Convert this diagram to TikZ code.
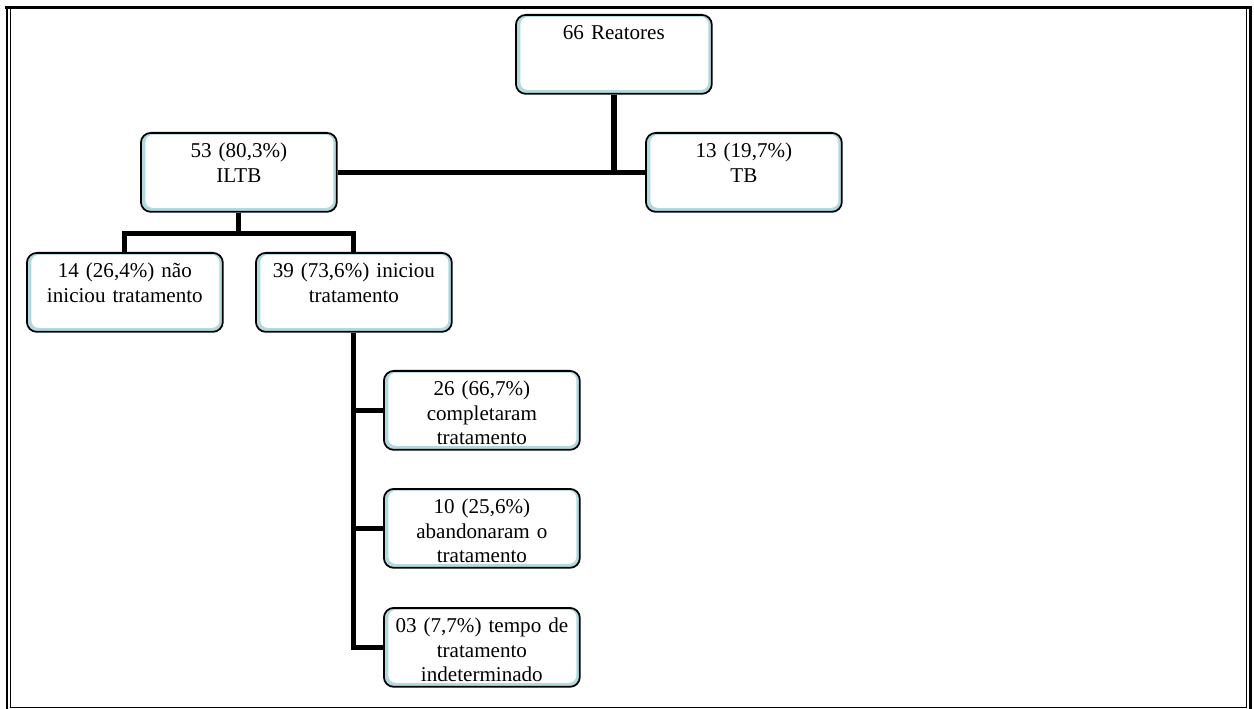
\documentclass[tikz,border=0pt]{standalone}
\usepackage{fontspec}
\setmainfont{Liberation Serif}
\definecolor{rim}{RGB}{178,217,223}

\begin{document}
\begin{tikzpicture}[x=0.02cm, y=-0.02cm,
        box/.style={draw, line width=1pt, rounded corners=0.2cm, fill=rim,
            anchor=north west, align=center, text width=3.7cm,
            inner xsep=0.11cm, inner ysep=0.1cm, text height=0.4cm, text depth=0.98cm,
            font=\fontsize{12}{13.8}\selectfont,
            path picture={\fill[white, rounded corners=0.15cm]
                ([xshift=0.09cm, yshift=-0.04cm]path picture bounding box.north west) rectangle
                ([xshift=-0.07cm, yshift=0.08cm]path picture bounding box.south east);}},
        link/.style={line width=3pt}]

        % (x, y) in pixels of the page: x to the right, y downwards
        \useasboundingbox (0, 0) rectangle (1254, 709);

        % frame
        \draw[line width=1.8pt] (5, 7.5) -- (1252, 7.5);
        \draw[line width=1.4pt] (7, 6) -- (7, 709);
        \draw[line width=0.6pt] (10.5, 9) -- (10.5, 707.5);
        \draw[line width=1.4pt] (1250.5, 6) -- (1250.5, 709);
        \draw[line width=0.6pt] (1246.5, 9) -- (1246.5, 707.5);
        \draw[line width=0.7pt] (10.5, 707.5) -- (1246.5, 707.5);

        % boxes
        \node[box] (reat) at (515, 14) {66 Reatores};
        \node[box] (iltb) at (140, 132) {53 (80,3\%)\\ILTB};
        \node[box] (tb) at (645, 132) {13 (19,7\%)\\TB};
        \node[box] (nao) at (26, 252) {14 (26,4\%) não\\iniciou tratamento};
        \node[box] (ini) at (255, 252) {39 (73,6\%) iniciou\\tratamento};
        \node[box] (comp) at (383, 370) {26 (66,7\%)\\completaram\\tratamento};
        \node[box] (aban) at (383, 488) {10 (25,6\%)\\abandonaram o\\tratamento};
        \node[box] (tempo) at (383, 607) {03 (7,7\%) tempo de\\tratamento\\indeterminado};

        % links
        \draw[link] (reat.south) -- (reat.south |- iltb.east);
        \draw[link] (iltb.east) -- (tb.west);
        \draw[link] (iltb.south) -- ++(0, 21) coordinate (split);
        \draw[link] (nao.north) |- (split) -| (ini.north);
        \draw[link] (ini.south) |- (tempo.west);
        \foreach \n in {comp, aban}
            \draw[link] (\n.west) -- (\n.west -| ini.south);

    \end{tikzpicture}
\end{document}
